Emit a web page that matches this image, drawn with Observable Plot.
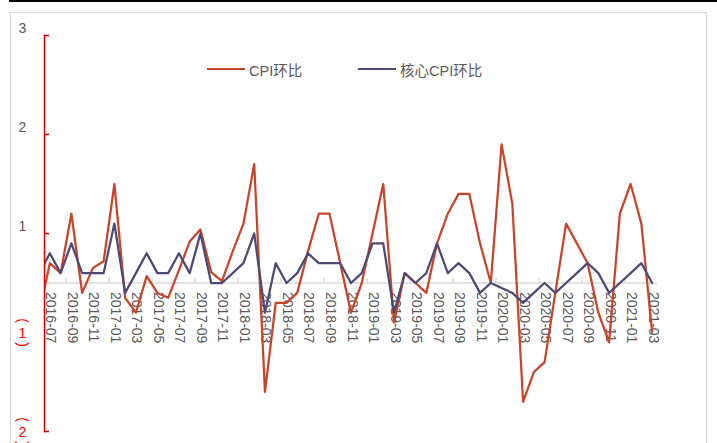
<!DOCTYPE html>
<html>
<head>
<meta charset="utf-8">
<script src="https://cdn.jsdelivr.net/npm/d3@7"></script>
<script src="https://cdn.jsdelivr.net/npm/@observablehq/plot@0.6"></script>
<style>
  html, body { margin: 0; padding: 0; background: #fff; }
  body { font-family: "Liberation Sans", "Noto Sans CJK SC", sans-serif; }
  #wrap { position: relative; width: 717px; height: 443px; overflow: hidden; }
  #topline { position: absolute; left: 9px; right: 0; top: 0; height: 2px; background: #000; }
  #border { position: absolute; left: 10px; top: 12px; width: 697px; height: 470px; border: 1.5px solid #d9d9d9; box-sizing: border-box; }
  #chart { position: absolute; left: 0; top: 0; }
  #legend { position: absolute; top: 59px; left: 207px; font-size: 14.5px; color: #595959; white-space: nowrap; }
  .item { position: absolute; top: 0; display: flex; align-items: center; height: 20px; }
  .swatch { display: inline-block; width: 38px; height: 2.5px; margin-right: 4px; }
</style>
</head>
<body>
<div id="wrap">
  <div id="topline"></div>
  <div id="border"></div>
  <div id="chart"></div>
  <div id="legend"></div>
</div>
<script>
// ---------- data ----------
const months = [
  "2016-06","2016-07","2016-08","2016-09","2016-10","2016-11","2016-12",
  "2017-01","2017-02","2017-03","2017-04","2017-05","2017-06","2017-07","2017-08","2017-09","2017-10","2017-11","2017-12",
  "2018-01","2018-02","2018-03","2018-04","2018-05","2018-06","2018-07","2018-08","2018-09","2018-10","2018-11","2018-12",
  "2019-01","2019-02","2019-03","2019-04","2019-05","2019-06","2019-07","2019-08","2019-09","2019-10","2019-11","2019-12",
  "2020-01","2020-02","2020-03","2020-04","2020-05","2020-06","2020-07","2020-08","2020-09","2020-10","2020-11","2020-12",
  "2021-01","2021-02","2021-03"
];
const cpiMoM = [
  -0.3, 0.2, 0.1, 0.7, -0.1, 0.15, 0.22,
  1.0, -0.15, -0.3, 0.07, -0.1, -0.15, 0.13, 0.42, 0.54, 0.11, 0.02, 0.32,
  0.6, 1.2, -1.1, -0.2, -0.2, -0.1, 0.32, 0.7, 0.7, 0.2, -0.3, 0.0,
  0.5, 1.0, -0.4, 0.1, 0.0, -0.1, 0.4, 0.7, 0.9, 0.9, 0.4, 0.0,
  1.4, 0.8, -1.2, -0.9, -0.8, -0.1, 0.6, 0.4, 0.2, -0.3, -0.6, 0.7,
  1.0, 0.6, -0.5
];
const coreCpiMoM = [
  0.1, 0.3, 0.1, 0.4, 0.1, 0.1, 0.1,
  0.6, -0.1, 0.1, 0.3, 0.1, 0.1, 0.3, 0.1, 0.5, 0.0, 0.0, 0.1,
  0.2, 0.5, -0.3, 0.2, 0.0, 0.1, 0.3, 0.2, 0.2, 0.2, 0.0, 0.1,
  0.4, 0.4, -0.3, 0.1, 0.0, 0.1, 0.4, 0.1, 0.2, 0.1, -0.1, 0.0,
  -0.05, -0.1, -0.2, -0.1, 0.0, -0.1, 0.0, 0.1, 0.2, 0.1, -0.1, 0.0,
  0.1, 0.2, 0.0
];
const seriesNames = ["CPI环比", "核心CPI环比"];
const seriesColors = ["#c8452b", "#4f4a73"];
const yTickValues = [2.5, 1.5, 0.5, -0.5, -1.5];
const yTickLabels = ["3", "2", "1", "1", "2"];
const redAxisTicks = [2.5, 1.5, 0.5, -1.5];
const xMinorTicks = [1.5, 5.5, 9.5, 13.5, 17.5, 21.5, 25.5, 29.5, 33.5, 37.5, 41.5, 45.5, 49.5, 53.5];

// ---------- build ----------
const W = 717, H = 443, ML = 44, MR = 60, MT = 35, MB = 12;
const rows = months.map((m, k) => ({ i: k - 1, m, cpi: cpiMoM[k], core: coreCpiMoM[k] }));
const labelRows = rows.filter(d => d.i >= 0 && d.i % 2 === 0);
const yLabels = yTickValues.map((v, k) => ({ v, t: yTickLabels[k] }));
const posLabels = yLabels.filter(d => d.v > 0);
const negLabels = yLabels.filter(d => d.v < 0);
const font = '"Liberation Sans", "Noto Sans CJK SC", sans-serif';
const red = "#f00";

const chart = Plot.plot({
  width: W, height: H,
  marginLeft: ML, marginRight: MR, marginTop: MT, marginBottom: MB,
  x: { type: "linear", domain: [-0.5, 56.5], axis: null },
  y: { domain: [-1.5, 2.5], axis: null },
  style: { fontFamily: font, background: "transparent", overflow: "visible" },
  marks: [
    Plot.ruleY([0], { stroke: "#d9d9d9", strokeWidth: 1.5 }),
    Plot.ruleX(xMinorTicks, { x: d => d, y1: 0, y2: 0.045, stroke: "#d9d9d9", strokeWidth: 1.5 }),
    Plot.text(labelRows, { x: "i", y: 0, text: "m", rotate: 90, textAnchor: "start", dy: 9, dx: 1, fontSize: 14, fill: "#595959" }),
    Plot.line(rows, { x: "i", y: "cpi", stroke: seriesColors[0], strokeWidth: 2.25, clip: true }),
    Plot.line(rows, { x: "i", y: "core", stroke: seriesColors[1], strokeWidth: 2.25, clip: true }),
    Plot.frame({ anchor: "left", stroke: "#d40000", strokeWidth: 1.5 }),
    Plot.tickY(redAxisTicks, { y: d => d, stroke: "#d40000", strokeWidth: 1.5, insetRight: W - ML - MR - 5 }),
    Plot.text(posLabels, { y: "v", text: "t", frameAnchor: "left", dx: -22, dy: -7, textAnchor: "middle", fill: "#595959", fontSize: 14 }),
    Plot.text(negLabels, { y: "v", text: "t", frameAnchor: "left", dx: -22, dy: 1, textAnchor: "middle", fill: red, fontSize: 14 }),
    Plot.text(negLabels, { y: "v", text: () => "(", rotate: 90, frameAnchor: "left", dx: -22, dy: -12, textAnchor: "middle", fill: red, fontSize: 14 }),
    Plot.text(negLabels, { y: "v", text: () => ")", rotate: 90, frameAnchor: "left", dx: -22, dy: 12, textAnchor: "middle", fill: red, fontSize: 14 })
  ]
});
document.getElementById("chart").appendChild(chart);

// legend
const legend = document.getElementById("legend");
const offsets = [0, 151];
seriesNames.forEach((name, k) => {
  const it = document.createElement("div");
  it.className = "item";
  it.style.left = offsets[k] + "px";
  const sw = document.createElement("span");
  sw.className = "swatch";
  sw.style.background = seriesColors[k];
  it.appendChild(sw);
  it.appendChild(document.createTextNode(name));
  legend.appendChild(it);
});
</script>
</body>
</html>
